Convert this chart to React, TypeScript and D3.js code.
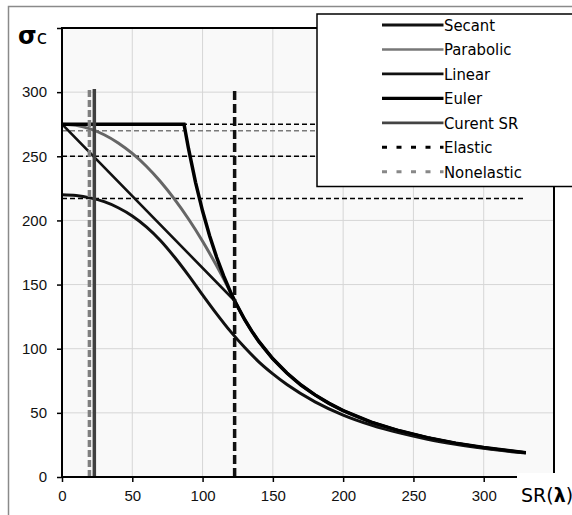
import React, { useEffect, useRef } from 'react';
import * as d3 from 'd3';

const WIDTH = 572;
const HEIGHT = 515;

// axes
const X_TICKS = [0, 50, 100, 150, 200, 250, 300, 350];
const X_LABELS = ['0', '50', '100', '150', '200', '250', '300', ''];
const Y_TICKS = [0, 50, 100, 150, 200, 250, 300, 350];
const Y_LABELS = ['0', '50', '100', '150', '200', '250', '300', ''];

// Secant
const SECANT_SR = [0, 10, 20, 30, 40, 50, 60, 70, 80, 90, 100, 110, 120, 130, 140, 150, 160, 180, 200, 220, 240, 260, 280, 300, 320, 330];
const SECANT_SIGMA = [220, 219.4, 217.6, 214.6, 209.9, 203.5, 195.0, 184.4, 171.5, 157.2, 142.0, 127.2, 113.3, 100.9, 89.8, 80.4, 72.1, 58.6, 48.3, 40.5, 34.4, 29.5, 25.6, 22.4, 19.7, 18.6];

// Parabolic
const PARABOLIC_SR = [0, 10, 20, 30, 40, 50, 60, 70, 80, 90, 100, 110, 116, 122.8, 130, 140, 150, 160, 170, 180, 190, 200, 220, 240, 260, 280, 300, 320, 330];
const PARABOLIC_SIGMA = [275, 274.1, 271.4, 266.8, 260.4, 252.2, 242.2, 230.3, 216.6, 201.1, 183.8, 164.6, 152.3, 137.4, 122.6, 105.7, 92.1, 81.0, 71.7, 64.0, 57.4, 51.8, 42.8, 36.0, 30.7, 26.4, 23.0, 20.2, 19.0];

// Linear
const LINEAR_SR = [0, 122.8, 126, 130, 135, 140, 150, 160, 170, 180, 190, 200, 220, 240, 260, 280, 300, 320, 330];
const LINEAR_SIGMA = [275, 137.4, 130.5, 122.6, 113.7, 105.7, 92.1, 81.0, 71.7, 64.0, 57.4, 51.8, 42.8, 36.0, 30.7, 26.4, 23.0, 20.2, 19.0];

// Euler
const EULER_SR = [0, 86.8, 90, 95, 100, 105, 110, 115, 120, 123, 130, 135, 140, 150, 160, 170, 180, 190, 200, 220, 240, 260, 280, 300, 320, 330];
const EULER_SIGMA = [275, 275, 255.9, 229.7, 207.3, 188.0, 171.3, 156.7, 143.9, 137.0, 122.6, 113.7, 105.7, 92.1, 81.0, 71.7, 64.0, 57.4, 51.8, 42.8, 36.0, 30.7, 26.4, 23.0, 20.2, 19.0];

// reference lines
const CURRENT_SR = 23;
const ELASTIC_SR = 122.8;
const NONELASTIC_SR = 19.5;
const VERTICAL_TOP = 302.5;
const ELASTIC_SIGMA = [275, 250, 217];
const NONELASTIC_SIGMA = [270];
const REF_END_SR = 328;

const LEGEND_NAMES = ['Secant', 'Parabolic', 'Linear', 'Euler', 'Curent SR', 'Elastic', 'Nonelastic'];

const LEGEND_STYLE: Record<string, { stroke: string; width: number; dash?: string }> = {
  'Secant': { stroke: '#111', width: 2.8 },
  'Parabolic': { stroke: '#777', width: 2.5 },
  'Linear': { stroke: '#111', width: 2.6 },
  'Euler': { stroke: '#000', width: 3.2 },
  'Curent SR': { stroke: '#444', width: 2.8 },
  'Elastic': { stroke: '#000', width: 3, dash: '5,9.5' },
  'Nonelastic': { stroke: '#888', width: 3, dash: '5,9.5' },
};

const M = { left: 62, top: 28, right: 554, bottom: 477 };
const TICK_FONT = '"Liberation Sans", Arial, sans-serif';

export default function App() {
  const xAxisRef = useRef<SVGGElement>(null);
  const yAxisRef = useRef<SVGGElement>(null);

  const x = d3.scaleLinear().domain([0, 350]).range([M.left, M.right]);
  const y = d3.scaleLinear().domain([0, 350]).range([M.bottom, M.top]);

  const linePath = (xs: number[], ys: number[], curve: d3.CurveFactory) =>
    d3.line<number>().x((_, i) => x(xs[i])).y((_, i) => y(ys[i])).curve(curve)(xs) || '';

  useEffect(() => {
    const gx = d3.select(xAxisRef.current!);
    gx.call(
      d3.axisBottom(x).tickValues(X_TICKS).tickFormat((_, i) => X_LABELS[i]).tickSize(5).tickPadding(8) as any
    );
    gx.select('.domain').remove();
    gx.attr('font-family', null).attr('font-size', null);
    gx.selectAll('line').attr('stroke', '#000').attr('stroke-width', 1.5);
    gx.selectAll('text').attr('fill', '#111').style('font-family', TICK_FONT).style('font-size', '15px');

    const gy = d3.select(yAxisRef.current!);
    gy.call(
      d3.axisLeft(y).tickValues(Y_TICKS).tickFormat((_, i) => Y_LABELS[i]).tickSize(5).tickPadding(10) as any
    );
    gy.select('.domain').remove();
    gy.attr('font-family', null).attr('font-size', null);
    gy.selectAll('line').attr('stroke', '#000').attr('stroke-width', 1.5);
    gy.selectAll('text').attr('fill', '#111').style('font-family', TICK_FONT).style('font-size', '15px');
  }, []);

  const gridX = X_TICKS.filter((t) => t > 0 && t < 350);
  const gridY = Y_TICKS.filter((t) => t > 0 && t < 350);

  const legendX = 317;
  const legendY = 14;
  const rowY0 = 25;
  const rowStep = 24.45;

  return (
    <svg
      width={WIDTH}
      height={HEIGHT}
      style={{ position: 'absolute', left: 0, top: 0, background: '#fff' }}
    >
      {/* outer chart border */}
      <rect x={8.5} y={6.5} width={700} height={700} fill="#fff" stroke="#8a8a8a" strokeWidth={1.5} />

      {/* plot area */}
      <rect x={M.left} y={M.top} width={M.right - M.left} height={M.bottom - M.top} fill="#f9f9f9" />

      {/* grid */}
      {gridX.map((t) => (
        <line key={'gx' + t} x1={x(t)} x2={x(t)} y1={M.top} y2={M.bottom} stroke="#d6d6d6" strokeWidth={1} />
      ))}
      {gridY.map((t) => (
        <line key={'gy' + t} x1={M.left} x2={M.right} y1={y(t)} y2={y(t)} stroke="#d6d6d6" strokeWidth={1} />
      ))}

      {/* horizontal reference lines */}
      {ELASTIC_SIGMA.map((s) => (
        <line key={'he' + s} x1={x(0)} x2={x(REF_END_SR)} y1={y(s)} y2={y(s)} stroke="#000" strokeWidth={1.5} strokeDasharray="5,3" />
      ))}
      {NONELASTIC_SIGMA.map((s) => (
        <line key={'hn' + s} x1={x(0)} x2={x(REF_END_SR)} y1={y(s)} y2={y(s)} stroke="#7a7a7a" strokeWidth={1.5} strokeDasharray="5,3" />
      ))}

      {/* curves */}
      <path d={linePath(SECANT_SR, SECANT_SIGMA, d3.curveMonotoneX)} fill="none" stroke="#111" strokeWidth={3} strokeLinejoin="round" />
      <path d={linePath(PARABOLIC_SR, PARABOLIC_SIGMA, d3.curveMonotoneX)} fill="none" stroke="#666" strokeWidth={3} strokeLinejoin="round" />
      <path d={linePath(LINEAR_SR, LINEAR_SIGMA, d3.curveLinear)} fill="none" stroke="#111" strokeWidth={2.6} strokeLinejoin="round" />
      <path d={linePath(EULER_SR, EULER_SIGMA, d3.curveLinear)} fill="none" stroke="#000" strokeWidth={3.5} strokeLinejoin="miter" />

      {/* vertical reference lines */}
      <line x1={x(NONELASTIC_SR)} x2={x(NONELASTIC_SR)} y1={y(0)} y2={y(VERTICAL_TOP)} stroke="#808080" strokeWidth={3.5} strokeDasharray="7,3" />
      <line x1={x(CURRENT_SR)} x2={x(CURRENT_SR)} y1={y(0)} y2={y(VERTICAL_TOP)} stroke="#404040" strokeWidth={3.5} />
      <line x1={x(ELASTIC_SR)} x2={x(ELASTIC_SR)} y1={y(0)} y2={y(VERTICAL_TOP)} stroke="#111" strokeWidth={3.5} strokeDasharray="9,4" />

      {/* plot border */}
      <rect x={M.left} y={M.top} width={M.right - M.left} height={M.bottom - M.top} fill="none" stroke="#000" strokeWidth={2} />

      {/* axes */}
      <g ref={xAxisRef} transform={`translate(0,${M.bottom})`} />
      <g ref={yAxisRef} transform={`translate(${M.left},0)`} />

      {/* y label */}
      <text x={18} y={44} fill="#000" fontFamily='"DejaVu Sans", sans-serif'>
        <tspan fontSize={24} fontWeight="bold">σ</tspan>
        <tspan fontSize={19}>c</tspan>
      </text>

      {/* x label box */}
      <rect x={517} y={473} width={60} height={50} fill="#fff" />
      <text x={521} y={502} fill="#000" fontFamily='"DejaVu Sans", sans-serif' fontSize={19}>
        SR(<tspan fontWeight="bold">λ</tspan>)
      </text>

      {/* legend */}
      <rect x={legendX} y={legendY} width={300} height={172.5} fill="#fff" stroke="#000" strokeWidth={1.5} />
      {LEGEND_NAMES.map((name, i) => {
        const st = LEGEND_STYLE[name];
        const cy = rowY0 + i * rowStep;
        return (
          <g key={name}>
            <line x1={382} x2={443.5} y1={cy} y2={cy} stroke={st.stroke} strokeWidth={st.width} strokeDasharray={st.dash} />
            <text x={444} y={cy} dy="0.36em" fontFamily='"DejaVu Sans Condensed", "DejaVu Sans", sans-serif' fontSize={16.5} fill="#000">
              {name}
            </text>
          </g>
        );
      })}
    </svg>
  );
}
